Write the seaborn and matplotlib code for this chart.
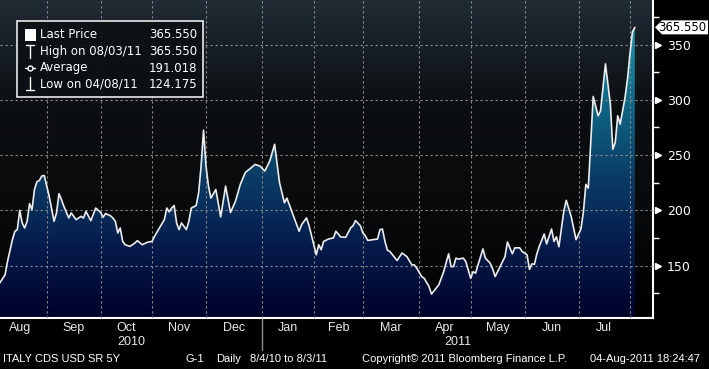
import numpy as np
import pandas as pd
import matplotlib
matplotlib.use("Agg")
import matplotlib.pyplot as plt
import matplotlib.transforms as mtransforms
from matplotlib.colors import LinearSegmentedColormap
from matplotlib.patches import Rectangle, Polygon
import seaborn as sns

# trading-day number since 2010-08-04 and ITALY CDS USD SR 5Y level (bp)
day = [0, 3, 4, 6, 7, 8, 9, 10, 11, 12, 13, 14, 15, 16, 17, 18, 19, 21, 23, 24,
       25, 26, 27, 29, 30, 32, 34, 35, 36, 38, 40, 42, 43, 44, 46, 47, 48, 49, 50, 51,
       52, 54, 56, 57, 59, 61, 63, 64, 66, 68, 69, 70, 71, 72, 73, 74, 75, 77, 78, 79,
       81, 82, 83, 84, 85, 86, 87, 89, 91, 93, 94, 95, 97, 99, 101, 102, 103, 105, 107, 109,
       111, 113, 115, 117, 118, 120, 123, 124, 126, 127, 130, 131, 132, 133, 135, 137, 138, 140, 142, 144,
       145, 146, 148, 149, 150, 151, 153, 155, 156, 157, 158, 159, 160, 163, 164, 165, 167, 169, 170, 171,
       173, 174, 176, 177, 180, 182, 184, 185, 186, 187, 188, 190, 191, 192, 193, 194, 195, 196, 198, 199,
       201, 202, 203, 205, 207, 208, 210, 211, 213, 214, 215, 216, 217, 218, 219, 220, 221, 223, 224, 226,
       227, 228, 229, 231, 232, 234, 236, 238, 239, 240, 241, 243, 245, 246, 248, 250, 251, 252, 253, 254,
       256, 257, 258, 259, 260]
cds = [131.5, 141.5, 153.6, 173.4, 180.9, 182.5, 200.0, 188.5, 184.0, 190.0, 206.0, 200.6, 218.8, 225.8, 227.0, 231.0, 231.5, 212.7, 190.0, 197.6,
       215.0, 209.7, 203.6, 193.0, 197.6, 191.5, 194.5, 193.0, 199.0, 190.6, 202.0, 198.0, 193.6, 197.0, 195.0, 193.0, 190.0, 179.5, 184.0, 171.8,
       168.8, 167.3, 170.4, 172.5, 168.8, 171.0, 171.8, 176.4, 184.0, 191.5, 202.0, 198.5, 202.0, 204.3, 188.5, 182.5, 188.5, 182.5, 190.0, 202.0,
       204.3, 215.8, 240.0, 272.5, 240.0, 222.0, 211.0, 218.8, 194.0, 221.8, 209.7, 198.0, 208.0, 223.4, 234.0, 236.0, 237.6, 241.5, 240.0, 235.5,
       244.5, 259.7, 225.0, 206.7, 211.0, 199.0, 181.0, 187.0, 193.0, 186.5, 159.7, 168.8, 164.3, 171.8, 174.0, 175.0, 181.0, 175.8, 175.5, 184.0,
       186.0, 190.6, 186.0, 179.5, 177.0, 172.7, 173.4, 174.0, 182.5, 183.0, 172.0, 164.0, 162.7, 154.5, 158.0, 161.3, 158.0, 150.6, 150.6, 147.6,
       140.0, 138.5, 131.0, 124.2, 132.5, 144.5, 160.6, 149.0, 149.0, 156.7, 155.8, 156.7, 153.6, 146.0, 138.5, 144.5, 143.0, 150.6, 165.0, 156.7,
       152.0, 146.7, 140.0, 149.0, 158.0, 171.3, 160.6, 166.0, 166.0, 162.7, 161.3, 159.7, 146.5, 151.6, 151.0, 160.5, 167.3, 178.5, 169.5, 183.0,
       171.8, 176.0, 167.0, 199.0, 209.0, 194.5, 173.4, 183.0, 198.5, 223.4, 220.0, 303.0, 285.5, 290.0, 332.5, 296.0, 255.2, 261.3, 285.5, 278.0,
       302.2, 318.8, 341.5, 361.3, 365.55]

legend_rows = ["Last Price", "High on 08/03/11", "Average", "Low on 04/08/11"]
legend_vals = ["365.550", "365.550", "191.018", "124.175"]
footer = ["ITALY CDS USD SR 5Y", "G-1", "Daily", "8/4/10 to 8/3/11",
          "Copyright\u00a9 2011 Bloomberg Finance L.P.", "04-Aug-2011 18:24:47"]

df = pd.DataFrame({"day": day, "cds": cds})
dates = pd.bdate_range("2010-08-04", "2011-08-03")
month_start = [-2] + [i for i in range(1, len(dates)) if dates[i].month != dates[i - 1].month]
month_names = ["Aug"] + [dates[i].strftime("%b") for i in month_start[1:-1]]

sns.set_style("dark")
plt.rcParams["font.family"] = ["DejaVu Sans"]
narrow = ["Liberation Sans", "DejaVu Sans"]

W, H = 709, 369
fig = plt.figure(figsize=(W / 100, H / 100), dpi=100, facecolor="black")
ax = fig.add_axes([0, 1 - 318 / H, 653 / W, 318 / H])
ax.set_facecolor("black")

x0, x1 = 0.94, 267.4
y0, y1 = 102.5, 390.3

# background gradient
bg = LinearSegmentedColormap.from_list("bg", ["#000000", "#090a0b", "#0c0f12", "#202b34"])
ax.imshow(np.linspace(0, 1, 256).reshape(-1, 1), extent=[x0, x1, y0, y1], origin="lower",
          aspect="auto", cmap=bg, zorder=0)

# gradient area under the line
fillcm = LinearSegmentedColormap.from_list("fill", ["#01012a", "#061c4c", "#0b3f68", "#0f6a87", "#1b96ac"])
poly = ax.fill_between(df["day"], df["cds"], y0, facecolor="none", edgecolor="none")
im = ax.imshow(np.linspace(0, 1, 256).reshape(-1, 1), extent=[x0 - 2, x1, y0, 368],
               origin="lower", aspect="auto", cmap=fillcm, zorder=1)
im.set_clip_path(poly.get_paths()[0], transform=ax.transData)

sns.lineplot(data=df, x="day", y="cds", ax=ax, color="#ececec", lw=1.2, zorder=3)

ax.set_xlim(x0, x1)
ax.set_ylim(y0, y1)
ax.set_xlabel("")
ax.set_ylabel("")

# x axis: months
mids = [(a + b) / 2 for a, b in zip(month_start[:-1], month_start[1:])]
ax.set_xticks(mids)
ax.set_xticklabels(month_names, family=narrow, fontsize=9)
ax.set_xticks(month_start[1:], minor=True)
ax.tick_params(axis="x", which="major", length=0, pad=3, colors="#e8e8e8")
ax.tick_params(axis="x", which="minor", length=5, width=1, color="white", direction="out")

# y axis on the right
ax.yaxis.tick_right()
ax.set_yticks([150, 200, 250, 300, 350])
ax.set_yticks(np.arange(125, 400, 50), minor=True)
ax.tick_params(axis="y", which="major", length=0, pad=10, colors="white", labelsize=9)
ax.tick_params(axis="y", which="minor", length=4, width=1, color="white", direction="out")

ax.grid(True, which="major", axis="y", color="#8c8c8c", lw=0.8, ls=(0, (2, 2.5)))
ax.grid(True, which="minor", axis="x", color="#8c8c8c", lw=0.8, ls=(0, (2, 2.5)))
ax.grid(False, which="major", axis="x")
ax.set_axisbelow(False)

for s in ["top", "left"]:
    ax.spines[s].set_visible(False)
for s in ["bottom", "right"]:
    ax.spines[s].set_color("white")
    ax.spines[s].set_linewidth(1.5)

ytr = mtransforms.blended_transform_factory(ax.transAxes, ax.transData)
ax.plot([1 + 5 / 653] * 5, [150, 200, 250, 300, 350], ls="none", marker=">", ms=5,
        color="white", transform=ytr, clip_on=False)


def px(x, y):
    return x / W, 1 - y / H


# last price tag
ly = H - ax.transData.transform((0, cds[-1]))[1]
tag = [(655, ly), (662, ly - 7), (708, ly - 7), (708, ly + 7), (662, ly + 7)]
fig.patches.append(Polygon([px(a, b) for a, b in tag], closed=True, transform=fig.transFigure,
                           fc="white", ec="none", zorder=6))
fig.text(*px(706, ly), legend_vals[0], ha="right", va="center", color="black", fontsize=8.5, zorder=7)

# year labels and separator
xtr = mtransforms.blended_transform_factory(ax.transData, ax.transAxes)
jan = month_start[5]
ax.plot([jan, jan], [0, -0.1], color="#8c8c8c", lw=1, transform=xtr, clip_on=False)
ax.text((x0 + jan) / 2, -0.075, "2010", transform=xtr, ha="center", va="center", color="#e8e8e8",
        fontsize=9, family=narrow)
ax.text((jan + x1) / 2, -0.075, "2011", transform=xtr, ha="center", va="center", color="#e8e8e8",
        fontsize=9, family=narrow)

# legend box
fig.patches.append(Rectangle(px(17.3, 96.7), 185.4 / W, 75.4 / H, transform=fig.transFigure,
                             fc="#0b1014", ec="white", lw=1.2, alpha=0.9, zorder=5))
rows_y = [35, 51.5, 68, 84]
fig.patches.append(Rectangle(px(24.5, 40.5), 11 / W, 11 / H, transform=fig.transFigure,
                             fc="white", ec="none", zorder=6))
for tx, ty in [([30, 30], [45, 58]), ([26, 34], [45, 45]), ([25, 35], [68, 68]),
               ([30, 30], [77, 90]), ([26, 34], [90, 90])]:
    fig.lines.append(plt.Line2D([tx[0] / W, tx[1] / W], [1 - ty[0] / H, 1 - ty[1] / H],
                                transform=fig.transFigure, color="white", lw=1, zorder=6))
fig.lines.append(plt.Line2D([30 / W], [1 - 68 / H], transform=fig.transFigure, marker="o", ms=3.5,
                            mfc="#0b1014", mec="white", color="white", zorder=7))
for lab, val, ry in zip(legend_rows, legend_vals, rows_y):
    fig.text(*px(39.5, ry), lab, ha="left", va="center", color="white", fontsize=8.5, zorder=7)
    fig.text(*px(197, ry), val, ha="right", va="center", color="white", fontsize=8.5, zorder=7)

# footer
for txt, fx in zip(footer, [3, 185, 216, 250, 362, 590]):
    fig.text(*px(fx, 359), txt, ha="left", va="center", color="white", fontsize=8, family=narrow)

fig.savefig("out.png", dpi=100, facecolor="black")
